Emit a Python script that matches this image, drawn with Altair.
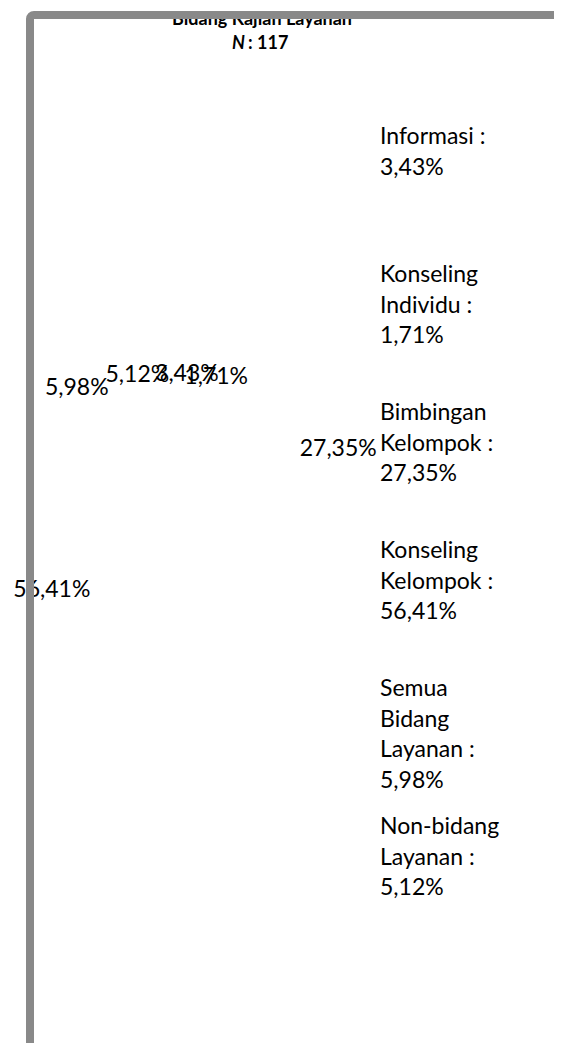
import altair as alt
import pandas as pd

# ---- data ----
categories = [
    "Informasi",
    "Konseling Individu",
    "Bimbingan Kelompok",
    "Konseling Kelompok",
    "Semua Bidang Layanan",
    "Non-bidang Layanan",
]
values = [3.43, 1.71, 27.35, 56.41, 5.98, 5.12]
title_line1 = "Bidang Kajian Layanan"
title_n_symbol = "N"
title_n_rest = "\u00a0: 117"

FONT = "Lato"
W, H = 546, 1035

# label ring (slightly elliptical, as in the source rendering)
CX, CY, RX, RY = 159, 487, 185, 122


def pct(v):
    return f"{v:.2f}".replace(".", ",") + "%"


df = pd.DataFrame({
    "idx": list(range(len(categories))),
    "cat": categories,
    "value": values,
    "pct": [pct(v) for v in values],
    "legend": [c.replace(" ", "\n") + " :\n" + pct(v) for c, v in zip(categories, values)],
})

base = alt.Chart(df)

# percentage labels at the middle angle of each pie slice (clockwise from 12 o'clock)
pie_labels = base.transform_joinaggregate(
    total="sum(value)"
).transform_window(
    cum="sum(value)", sort=[alt.SortField("idx")], frame=[None, 0]
).transform_calculate(
    ang="2*PI*(datum.cum - datum.value/2)/datum.total",
    ux="sin(datum.ang)",
    uy="cos(datum.ang)",
).mark_text(
    font=FONT, fontSize=23, color="#000000", align="center", baseline="middle",
).encode(
    x=alt.X("ux:Q", scale=alt.Scale(domain=[-1, 1], range=[CX - RX, CX + RX]), axis=None),
    y=alt.Y("uy:Q", scale=alt.Scale(domain=[-1, 1], range=[CY + RY, CY - RY]), axis=None),
    text="pct:N",
)

# legend-like category labels on the right
legend_text = base.mark_text(
    font=FONT, fontSize=23, color="#000000", align="left", baseline="top",
    lineBreak="\n", lineHeight=30.5,
).encode(
    x=alt.value(372),
    y=alt.Y("cat:N", scale=alt.Scale(type="point", domain=categories, range=[118, 808], padding=0),
            axis=None),
    text="legend:N",
)

title_df = alt.Data(values=[{"t1": title_line1, "n": title_n_symbol, "rest": title_n_rest}])
t1 = alt.Chart(title_df).mark_text(
    font=FONT, fontSize=18, fontWeight="bold", align="center", baseline="alphabetic", color="#000000"
).encode(x=alt.value(254), y=alt.value(17), text="t1:N")
t2a = alt.Chart(title_df).mark_text(
    font=FONT, fontSize=18, fontWeight="bold", fontStyle="italic", align="right",
    baseline="alphabetic", color="#000000"
).encode(x=alt.value(237), y=alt.value(41), text="n:N")
t2b = alt.Chart(title_df).mark_text(
    font=FONT, fontSize=18, fontWeight="bold", align="left", baseline="alphabetic", color="#000000"
).encode(x=alt.value(240), y=alt.value(41), text="rest:N")

frame = alt.Chart(alt.Data(values=[{}])).mark_rect(
    fill="transparent", stroke="#898989", strokeWidth=8, cornerRadius=4
).encode(
    x=alt.value(22), x2=alt.value(900), y=alt.value(7), y2=alt.value(1400)
)

chart = alt.layer(pie_labels, legend_text, t1, t2a, t2b, frame).resolve_scale(
    x="independent", y="independent"
).properties(
    width=W, height=H, padding=0, autosize=alt.AutoSizeParams(type="none")
).configure_view(stroke=None)

chart.save("out.html", embed_options={"renderer": "svg", "actions": False})
